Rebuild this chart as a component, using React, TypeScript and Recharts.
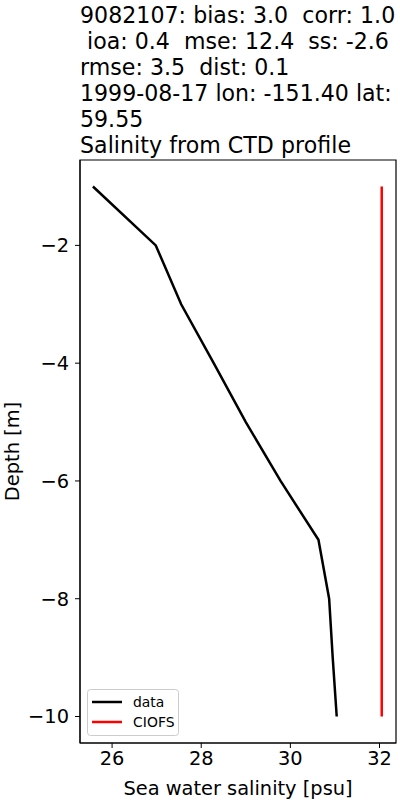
import React from 'react';
import { LineChart, Line, XAxis, YAxis, Legend, ReferenceArea } from 'recharts';

const depths = [-1, -2, -3, -4, -5, -6, -7, -8, -9, -10];
const observed = [25.57, 26.98, 27.55, 28.28, 29.0, 29.78, 30.63, 30.87, 30.95, 31.04];
const ciofs = [32.05, 32.05, 32.05, 32.05, 32.05, 32.05, 32.05, 32.05, 32.05, 32.05];

const xTicks = [26, 28, 30, 32];
const yTicks = [-10, -8, -6, -4, -2];

const titleLines = [
    '9082107: bias: 3.0  corr: 1.0',
    ' ioa: 0.4  mse: 12.4  ss: -2.6',
    'rmse: 3.5  dist: 0.1',
    '1999-08-17 lon: -151.40 lat:',
    '59.55',
    'Salinity from CTD profile',
];
// line widths in em (DejaVu Sans advance widths)
const titleEm = [14.264, 13.977, 9.473, 14.104, 2.862, 12.263];

const legendItems = [
    { name: 'data', color: '#000000', em: 2.253 },
    { name: 'CIOFS', color: '#ff0000', em: 2.99 },
];

const rows = depths.map((d, i) => ({ depth: d, data: observed[i], CIOFS: ciofs[i] }));

const FONT = '"DejaVu Sans", sans-serif';
const TITLE_SIZE = 22.1;
const LEGEND_SIZE = 13.9;
const fmt = (v: number) => String(v).replace('-', '\u2212');
const X_DOMAIN: [number, number] = [25.28, 32.37];
const Y_DOMAIN: [number, number] = [-10.45, -0.55];

const LegendBox = () => (
    <svg width={93} height={48} style={{ display: 'block' }}>
        <rect x={0.5} y={0.5} width={91} height={46} rx={3} fill="rgba(255,255,255,0.8)" stroke="#cccccc" />
        {legendItems.map((e, i) => (
            <g key={e.name}>
                <line x1={5} x2={35} y1={13 + i * 20} y2={13 + i * 20} stroke={e.color} strokeWidth={2.5} />
                <text
                    x={46}
                    y={18 + i * 20}
                    fontFamily={FONT}
                    fontSize={LEGEND_SIZE}
                    fill="#000"
                    textLength={e.em * LEGEND_SIZE}
                    lengthAdjust="spacing"
                >
                    {e.name}
                </text>
            </g>
        ))}
    </svg>
);

export default function App() {
    return (
        <div style={{ position: 'absolute', left: 0, top: 0, width: 400, height: 800, background: '#fff' }}>
            <svg width={400} height={160} style={{ position: 'absolute', left: 0, top: 0 }}>
                {titleLines.map((t, i) => (
                    <text
                        key={i}
                        x={80}
                        y={23 + i * 26}
                        fontFamily={FONT}
                        fontSize={TITLE_SIZE}
                        fill="#000"
                        xmlSpace="preserve"
                        style={{ whiteSpace: 'pre' }}
                        textLength={titleEm[i] * TITLE_SIZE}
                        lengthAdjust="spacing"
                    >
                        {t}
                    </text>
                ))}
            </svg>
            <LineChart
                width={400}
                height={800}
                data={rows}
                layout="vertical"
                margin={{ top: 160, right: 4, left: 0, bottom: 0 }}
                style={{ position: 'absolute', left: 0, top: 0 }}
            >
                <XAxis
                    type="number"
                    domain={X_DOMAIN}
                    ticks={xTicks}
                    allowDataOverflow
                    height={57}
                    stroke="#000"
                    tickSize={5}
                    tickMargin={3}
                    tick={{ fill: '#000', fontSize: 19.4, fontFamily: FONT }}
                    label={{
                        value: 'Sea water salinity [psu]',
                        position: 'insideBottom',
                        offset: 5,
                        fill: '#000',
                        fontSize: 19.4,
                        fontFamily: FONT,
                    }}
                />
                <YAxis
                    type="number"
                    dataKey="depth"
                    domain={Y_DOMAIN}
                    reversed
                    ticks={yTicks}
                    allowDataOverflow
                    width={80}
                    stroke="#000"
                    tickSize={5}
                    tickMargin={6}
                    tickFormatter={fmt}
                    tick={{ fill: '#000', fontSize: 19.4, fontFamily: FONT }}
                    label={{
                        value: 'Depth [m]',
                        angle: -90,
                        position: 'insideLeft',
                        offset: 12,
                        fill: '#000',
                        fontSize: 19.4,
                        fontFamily: FONT,
                        style: { textAnchor: 'middle' },
                    }}
                />
                <ReferenceArea
                    x1={X_DOMAIN[0]}
                    x2={X_DOMAIN[1]}
                    y1={Y_DOMAIN[0]}
                    y2={Y_DOMAIN[1]}
                    fill="none"
                    stroke="#000"
                    strokeWidth={1.2}
                    ifOverflow="visible"
                />
                <Legend
                    layout="horizontal"
                    verticalAlign="middle"
                    align="center"
                    content={() => <LegendBox />}
                    wrapperStyle={{ position: 'absolute', left: 87, top: 689, width: 'auto', bottom: 'auto' }}
                />
                <Line dataKey="data" stroke="#000000" strokeWidth={2.5} dot={false} isAnimationActive={false} />
                <Line dataKey="CIOFS" stroke="#ff0000" strokeWidth={2.5} dot={false} isAnimationActive={false} />
            </LineChart>
        </div>
    );
}
